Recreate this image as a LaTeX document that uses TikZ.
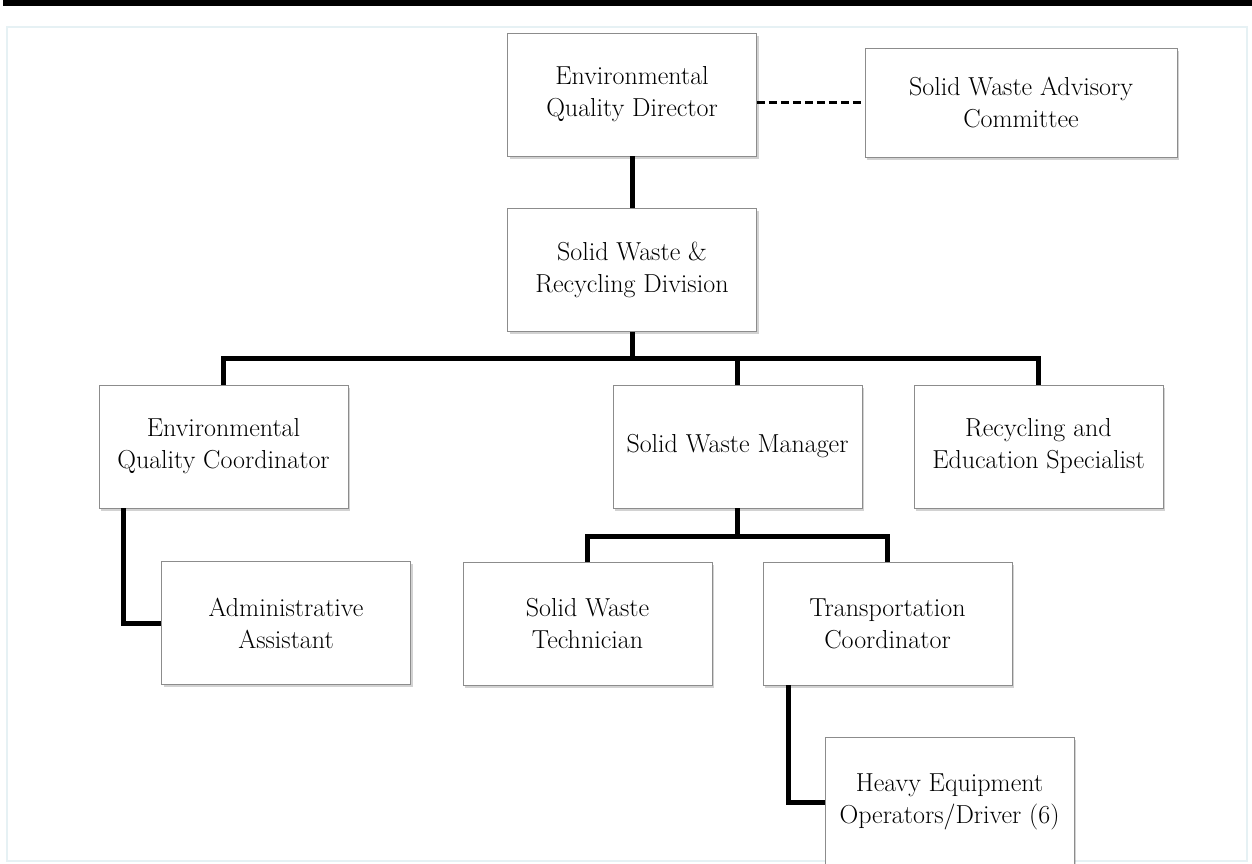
\documentclass[tikz,border=0pt]{standalone}
\usepackage{fontspec}
\usetikzlibrary{shadows}
\definecolor{framec}{HTML}{E6F1F4}
\tikzset{
  box/.style={draw=black!45, line width=0.8pt, fill=white,
    minimum width=249pt, minimum height=123pt, align=center, inner sep=0pt,
    font=\fontsize{26}{32}\selectfont,
    drop shadow={shadow xshift=2pt, shadow yshift=-2.5pt, opacity=0.25, fill=black!70}},
  conn/.style={line width=5pt, line join=miter},
  dashconn/.style={line width=3pt, dash pattern=on 8pt off 4pt}
}
\begin{document}
\begin{tikzpicture}[x=1pt,y=-1pt]
\useasboundingbox (0,0) rectangle (1252,863);
\fill[white] (0,0) rectangle (1252,863);
\fill[black] (3,0) rectangle (1252,6);
\draw[framec, line width=2pt] (7,27) rectangle (1247,861);

\node[box] (dir) at (632,94.5) {Environmental\\Quality Director};
\node[box, minimum width=312pt, minimum height=109pt] (adv) at (1021,102.5) {Solid Waste Advisory\\Committee};
\node[box] (div) at (632,270) {Solid Waste \&\\Recycling Division};
\node[box] (eqc) at (223.5,446.5) {Environmental\\Quality Coordinator};
\node[box] (swm) at (737.5,446.5) {Solid Waste Manager};
\node[box] (res) at (1038.5,446.5) {Recycling and\\Education Specialist};
\node[box] (admin) at (286,623) {Administrative\\Assistant};
\node[box] (tech) at (587.5,623.5) {Solid Waste\\Technician};
\node[box] (trans) at (887.5,623.5) {Transportation\\Coordinator};
\node[box, minimum height=130pt] (heavy) at (949.5,802) {Heavy Equipment\\Operators/Driver (6)};

\coordinate (h1) at (632,358);
\coordinate (h2) at (737.5,536);
\coordinate (c1) at (123,0);
\coordinate (c2) at (788,0);

\draw[dashconn] (dir.east |- adv.west) -- (adv.west);
\draw[conn] (dir.south) -- (div.north);
\draw[conn] (div.south) -- (h1);
\draw[conn] (eqc.north) -- (eqc.north |- h1) -- (res.north |- h1) -- (res.north);
\draw[conn] (swm.north) -- (swm.north |- h1);
\draw[conn] (swm.south) -- (h2);
\draw[conn] (tech.north) -- (tech.north |- h2) -- (trans.north |- h2) -- (trans.north);
\draw[conn] (c1 |- eqc.south) -- (c1 |- admin.west) -- (admin.west);
\draw[conn] (c2 |- trans.south) -- (c2 |- heavy.west) -- (heavy.west);
\end{tikzpicture}
\end{document}
